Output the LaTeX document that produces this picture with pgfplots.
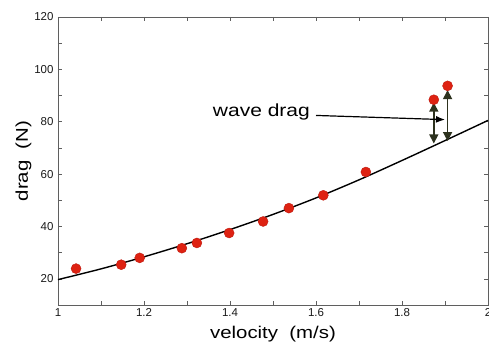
\documentclass[border=0pt]{standalone}
\usepackage{fontspec}
\setmainfont{Liberation Sans}
\newfontfamily\labfont[FakeStretch=1.2]{Liberation Sans}
\usepackage{pgfplots}
\pgfplotsset{compat=1.18}
\usetikzlibrary{arrows.meta}
\definecolor{dotred}{RGB}{222,34,18}
\definecolor{dotedge}{RGB}{190,25,15}
\definecolor{arrowgreen}{RGB}{45,50,30}
\definecolor{axgray}{RGB}{95,95,95}
\begin{document}
\begin{tikzpicture}
\begin{axis}[
  scale only axis,
  width=430pt, height=288pt,
  xmin=1, xmax=2, ymin=10, ymax=120,
  xtick={1,1.2,1.4,1.6,1.8,2},
  xticklabels={1,1.2,1.4,1.6,1.8,2},
  minor xtick={1.1,1.3,1.5,1.7,1.9},
  ytick={20,40,60,80,100,120},
  minor ytick={10,30,50,70,90,110},
  tick align=inside,
  major tick length=4pt, minor tick length=4pt,
  every tick/.style={axgray, line width=0.6pt},
  axis line style={axgray, line width=0.7pt},
  tick label style={font=\fontsize{11.5}{13}\selectfont, text=black!90},
  yticklabel style={xshift=-1pt},
  /pgf/number format/assume math mode=true,
  xlabel={\labfont\fontsize{17}{20}\selectfont velocity\ \ (m/s)},
  ylabel={\labfont\fontsize{17}{20}\selectfont drag\ \ (N)},
  xlabel style={at={(axis description cs:0.5,-0.1146)}, anchor=base},
  ylabel style={at={(axis description cs:-0.0698,0.5)}, anchor=base, rotate=0},
  clip=false,
]
\addplot[black, line width=1.4pt, smooth] coordinates {
  (1.0,19.7) (1.1,23.8) (1.2,28.4) (1.3,33.4) (1.4,38.8) (1.5,44.6)
  (1.6,50.9) (1.7,57.8) (1.8,65.2) (1.9,72.8) (2.0,80.5)
};
\addplot[only marks, mark=*, mark size=5pt, mark options={fill=dotred, draw=dotedge}] coordinates {
  (1.042,23.9) (1.147,25.4) (1.190,28.0) (1.288,31.7) (1.323,33.7)
  (1.398,37.5) (1.477,41.9) (1.537,47.0) (1.617,51.9) (1.716,60.8)
  (1.874,88.4) (1.906,93.7)
};
\addplot[arrowgreen, line width=1.4pt, {Triangle[width=9pt,length=9pt]}-{Triangle[width=9pt,length=9pt]}] coordinates {(1.874,87.3) (1.874,71.7)};
\addplot[arrowgreen, line width=1.4pt, {Triangle[width=9pt,length=9pt]}-{Triangle[width=9pt,length=9pt]}] coordinates {(1.906,92.1) (1.906,72.6)};
\addplot[black, line width=1.2pt, -{Latex[width=7pt,length=9pt]}] coordinates {(1.600,82.4) (1.900,80.8)};
\node[anchor=base, inner sep=0pt, font=\labfont\fontsize{17.5}{20}\selectfont] at (axis cs:1.473,82.1) {wave drag};
\end{axis}
\pgfresetboundingbox
\useasboundingbox (-58pt,-38pt) rectangle (431pt,305pt);
\end{tikzpicture}
\end{document}
